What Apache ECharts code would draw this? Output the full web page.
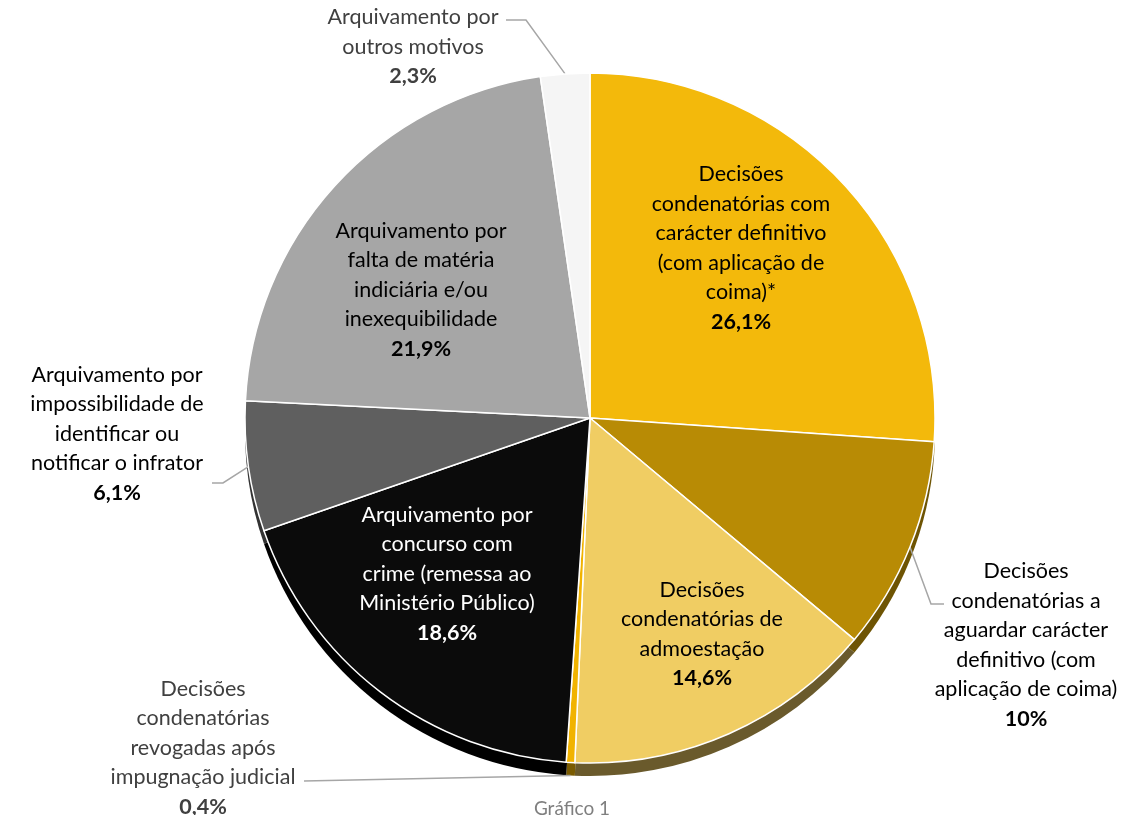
<!DOCTYPE html>
<html>
<head>
<meta charset="utf-8">
<script src="https://cdn.jsdelivr.net/npm/echarts@6/dist/echarts.min.js"></script>
<style>
  html, body { margin: 0; padding: 0; background: #fff; }
  #chart { width: 1142px; height: 815px; }
</style>
</head>
<body>
<div id="chart"></div>
<script>
// categories, clockwise from 12 o'clock
const categories = [
  'Decisões\ncondenatórias com\ncarácter definitivo\n(com aplicação de\ncoima)*',
  'Decisões\ncondenatórias a\naguardar carácter\ndefinitivo (com\naplicação de coima)',
  'Decisões\ncondenatórias de\nadmoestação',
  'Decisões\ncondenatórias\nrevogadas após\nimpugnação judicial',
  'Arquivamento por\nconcurso com\ncrime (remessa ao\nMinistério Público)',
  'Arquivamento por\nimpossibilidade de\nidentificar ou\nnotificar o infrator',
  'Arquivamento por\nfalta de matéria\nindiciária e/ou\ninexequibilidade',
  'Arquivamento por\noutros motivos'
];
const values = [26.1, 10, 14.6, 0.4, 18.6, 6.1, 21.9, 2.3];
const pctLabels = ['26,1%', '10%', '14,6%', '0,4%', '18,6%', '6,1%', '21,9%', '2,3%'];

const colors = ['#F3B90B', '#B88B05', '#F0CD63', '#F1B300', '#0B0B0B', '#5F5F5F', '#A6A6A6', '#F5F5F5'];
const sideColors = ['#8C6B06', '#6E5403', '#6A5A2C', '#7A5B00', '#000000', '#333333', '#666666', '#9A9A9A'];
const textColors = ['#000', '#000', '#000', '#404040', '#fff', '#000', '#000', '#404040'];

// pie geometry
const cx = 590, cy = 418, R = 345, depth = 13;

// label block centres (layout only)
const labelPos = [
  [741, 248], [1026, 645], [702, 634], [203, 748],
  [447, 574], [117, 434], [421, 290], [413, 47]
];
const outsideIdx = [1, 3, 5, 7];
// elbow + end of leader lines
const guideTail = {
  1: [[931, 604], [944, 604]],
  3: [[304, 781]],
  5: [[223, 483], [212, 483]],
  7: [[526, 20], [506, 20]]
};

const total = values.reduce((a, b) => a + b, 0);

function edgePoint(i, extra) {
  let before = 0;
  for (let k = 0; k < i; k++) before += values[k];
  const ang = (90 - 360 * (before + values[i] / 2) / total) * Math.PI / 180;
  return [cx + R * Math.cos(ang), cy - R * Math.sin(ang) + (extra || 0)];
}

const chart = echarts.init(document.getElementById('chart'));

const mainData = values.map((v, i) => {
  const outside = outsideIdx.indexOf(i) >= 0;
  return {
    name: categories[i],
    value: v,
    itemStyle: { color: colors[i] },
    label: { color: textColors[i], rich: { n: { color: textColors[i] }, b: { color: textColors[i] } } },
    labelLine: { show: outside }
  };
});

const sideData = values.map((v, i) => ({ name: categories[i], value: v, itemStyle: { color: sideColors[i] } }));

chart.setOption({
  animation: false,
  title: {
    text: 'Gráfico 1',
    left: 567,
    top: 794,
    textAlign: 'center',
    textStyle: { color: '#7F7F7F', fontSize: 19, fontWeight: 'normal', fontFamily: 'Lato' }
  },
  series: [
    {
      type: 'pie',
      silent: true,
      center: [cx, cy + depth],
      radius: R,
      startAngle: 90,
      z: 1,
      label: { show: false },
      labelLine: { show: false },
      itemStyle: { borderColor: 'rgba(0,0,0,0)', borderWidth: 0 },
      data: sideData
    },
    {
      type: 'pie',
      center: [cx, cy],
      radius: R,
      startAngle: 90,
      z: 2,
      avoidLabelOverlap: false,
      itemStyle: { borderColor: '#fff', borderWidth: 1.5 },
      label: {
        show: true,
        position: 'outside',
        fontFamily: 'Lato',
        formatter: p => '{n|' + p.name + '}\n{b|' + pctLabels[p.dataIndex] + '}',
        rich: {
          n: { fontFamily: 'Lato', fontSize: 21.5, lineHeight: 29.5 },
          b: { fontFamily: 'Lato', fontSize: 21.5, lineHeight: 29.5, fontWeight: 'bold' }
        }
      },
      labelLine: { lineStyle: { color: '#A6A6A6', width: 1.5 } },
      labelLayout: function (p) {
        const i = p.dataIndex;
        const out = { x: labelPos[i][0], y: labelPos[i][1], align: 'center', verticalAlign: 'middle' };
        if (guideTail[i]) {
          out.labelLinePoints = [edgePoint(i, i === 3 ? depth : 0)].concat(guideTail[i]);
        }
        return out;
      },
      data: mainData
    }
  ]
});
</script>
</body>
</html>
